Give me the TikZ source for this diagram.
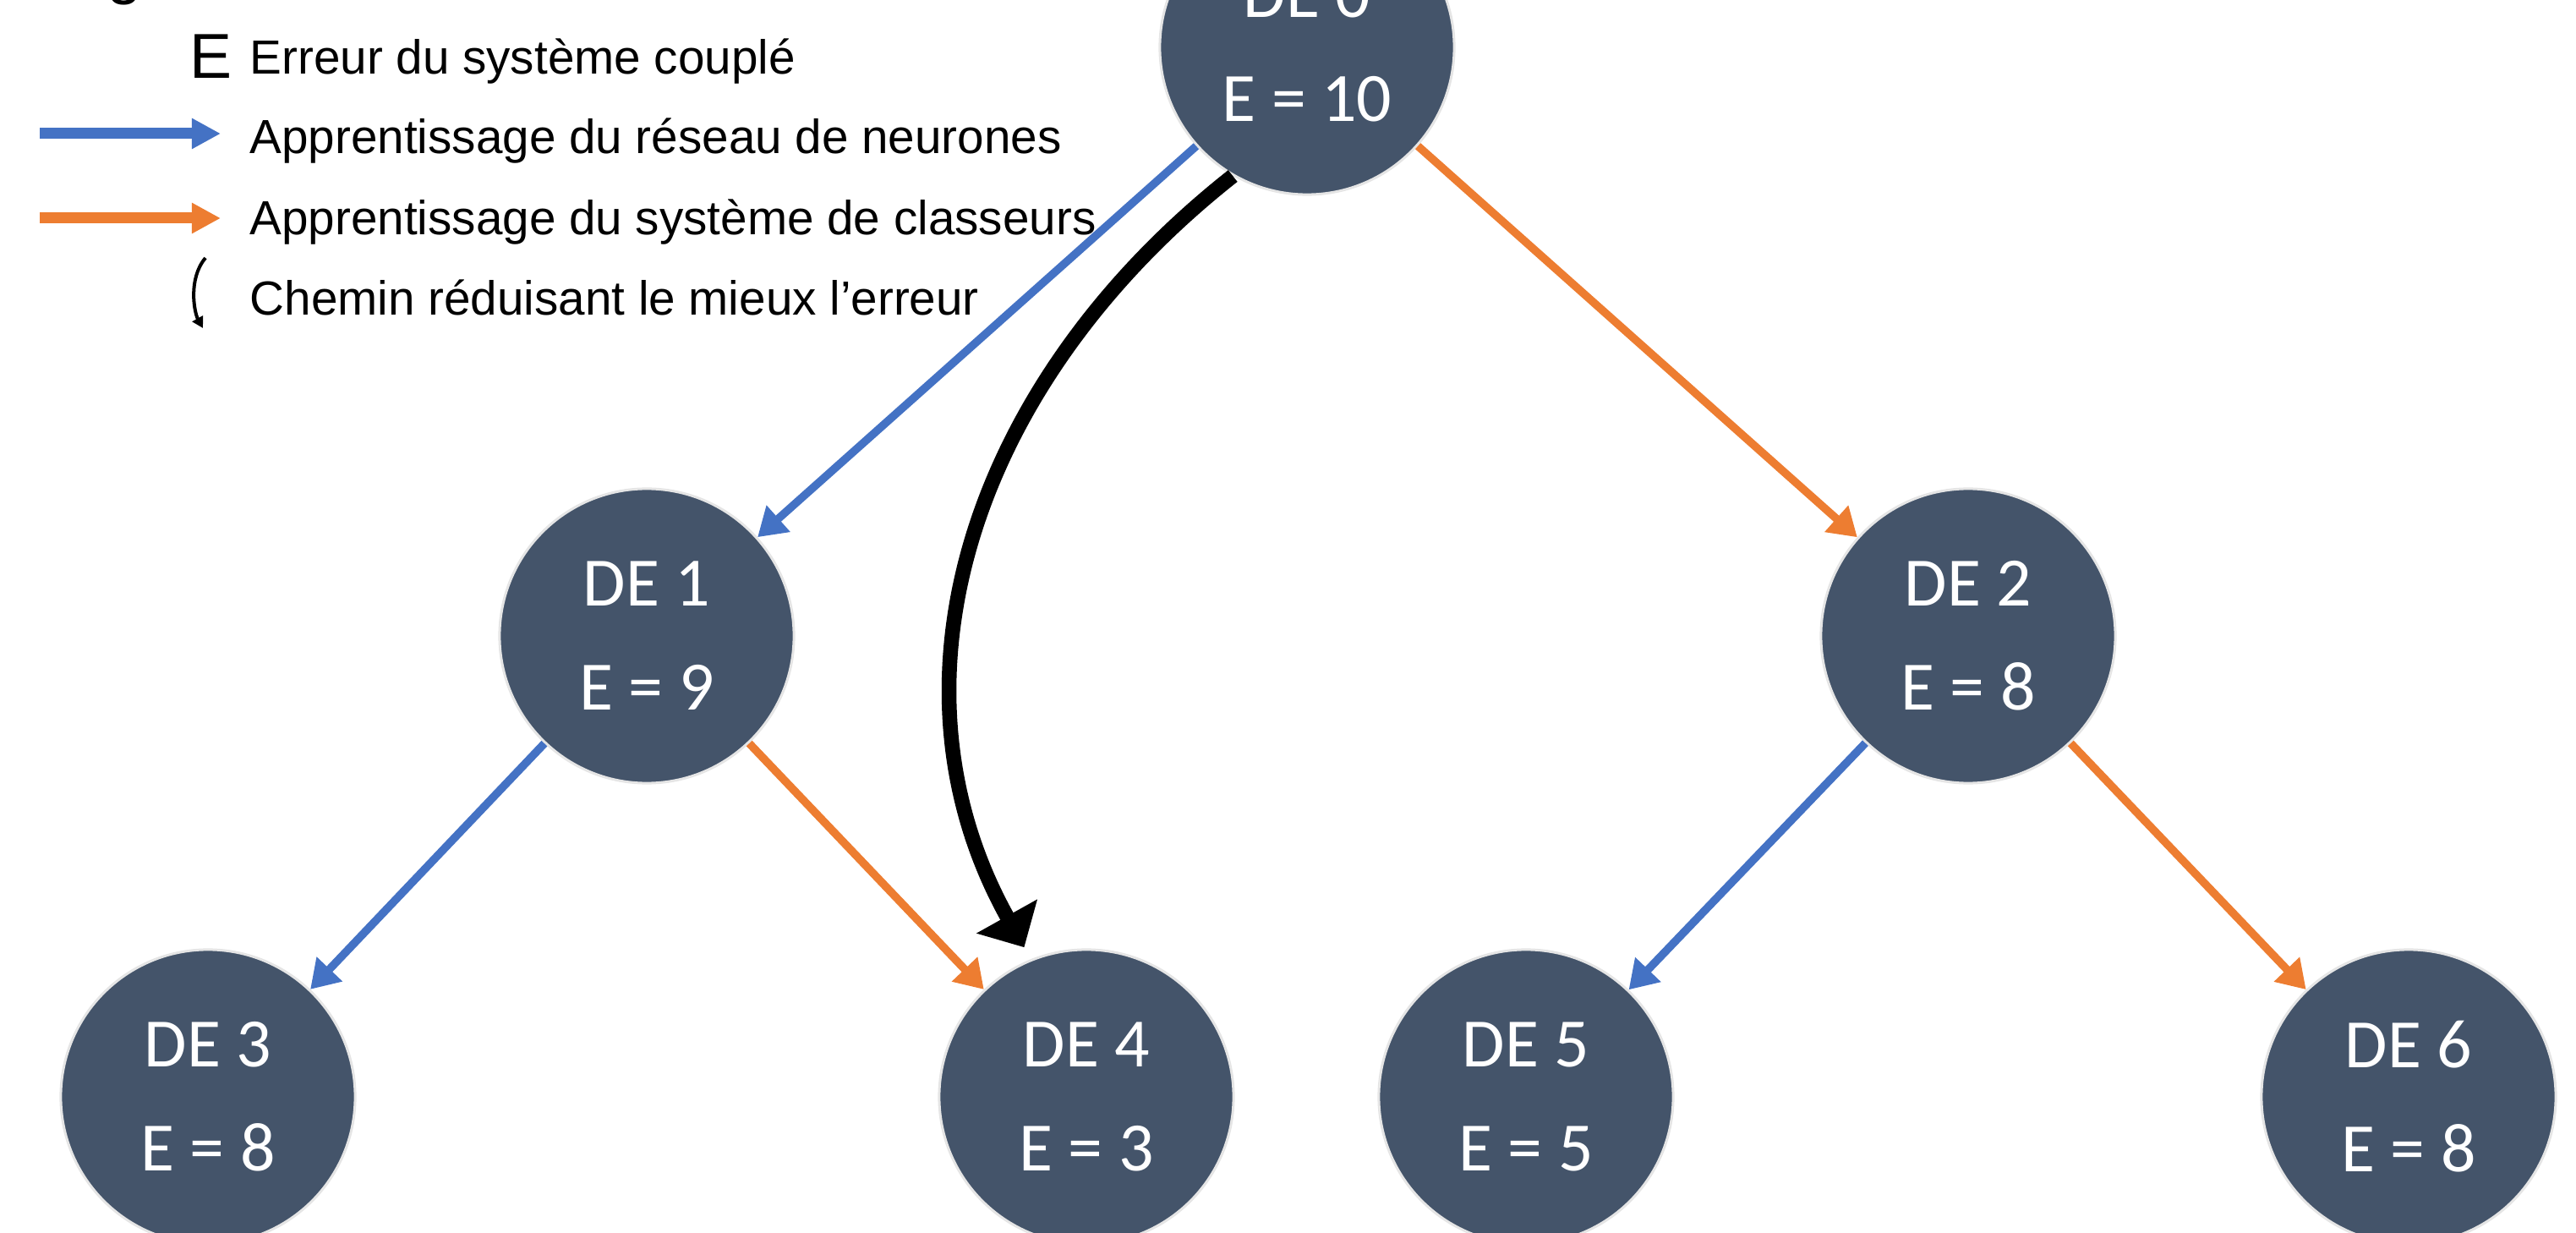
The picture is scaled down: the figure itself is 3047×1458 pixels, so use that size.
\documentclass[tikz,border=0pt]{standalone}
\usepackage{fontspec}
\setmainfont{Liberation Sans}
\newfontfamily\calibrifont{Carlito}
\usetikzlibrary{arrows.meta}
\definecolor{nodefill}{HTML}{44546A}
\definecolor{bluearr}{HTML}{4472C4}
\definecolor{orangearr}{HTML}{ED7D31}
\tikzset{
  denode/.style={circle, fill=nodefill, draw=gray!20, line width=0.03cm,
    minimum size=3.48cm, inner sep=0pt, text=white, align=center,
    font=\calibrifont\fontsize{23.3}{35}\selectfont},
  nnlearn/.style={draw=bluearr, line width=0.095cm,
    -{Triangle[length=0.33cm,width=0.4cm]}},
  lcslearn/.style={draw=orangearr, line width=0.095cm,
    -{Triangle[length=0.33cm,width=0.4cm]}},
  bestpath/.style={draw=black, line width=0.175cm,
    -{Triangle[length=0.42cm,width=0.8cm]}, shorten >=0.16cm},
  legtext/.style={anchor=base west, inner sep=0pt,
    font=\fontsize{16.1}{19}\selectfont},
  legbig/.style={anchor=base west, inner sep=0pt,
    font=\fontsize{21.34}{25}\selectfont},
  legblue/.style={draw=bluearr, line width=0.13cm,
    -{Triangle[length=0.34cm,width=0.34cm]}},
  legorange/.style={draw=orangearr, line width=0.13cm,
    -{Triangle[length=0.34cm,width=0.34cm]}},
  legpath/.style={draw=black, line width=0.04cm,
    -{Triangle[length=0.13cm,width=0.14cm]}},
}
\begin{document}
\begin{tikzpicture}[x=0.01cm,y=-0.01cm]
\useasboundingbox (0,0) rectangle (3047,1458);

% legend
\node[legbig] (title) at (42,-9) {Légende};
\node[legbig] (bigE) at (224,93) {E};
\node[legtext] (t1) at (295,88) {Erreur du système couplé};
\node[legtext] (t2) at (295,182) {Apprentissage du réseau de neurones};
\node[legtext] (t3) at (295,278) {Apprentissage du système de classeurs};
\node[legtext] (t4) at (295,373) {Chemin réduisant le mieux l’erreur};
\coordinate (lb1) at (47,158);
\coordinate (lb2) at (261,158);
\coordinate (lo1) at (47,258);
\coordinate (lo2) at (261,258);
\coordinate (lc1) at (243,305);
\coordinate (lc2) at (240,388);
\draw[legblue] (lb1) -- (lb2);
\draw[legorange] (lo1) -- (lo2);
\draw[legpath] (lc1) .. controls (222,330) and (230,370) .. (lc2);

% nodes
\node[denode] (n0) at (1546,56) {DE 0\\E = 10};
\node[denode] (n1) at (765,752) {DE 1\\E = 9};
\node[denode] (n2) at (2328,752) {DE 2\\E = 8};
\node[denode] (n3) at (246,1297) {DE 3\\E = 8};
\node[denode] (n4) at (1285,1297) {DE 4\\E = 3};
\node[denode] (n5) at (1805,1297) {DE 5\\E = 5};
\node[denode] (n6) at (2849,1297) {DE 6\\E = 8};

% edges
\draw[nnlearn] (n0) -- (n1);
\draw[lcslearn] (n0) -- (n2);
\draw[nnlearn] (n1) -- (n3);
\draw[lcslearn] (n1) -- (n4);
\draw[nnlearn] (n2) -- (n5);
\draw[lcslearn] (n2) -- (n6);

% best path
\draw[bestpath] (n0.240) .. controls (1150,451) and (1036,806) .. (n4.112);
\end{tikzpicture}
\end{document}
